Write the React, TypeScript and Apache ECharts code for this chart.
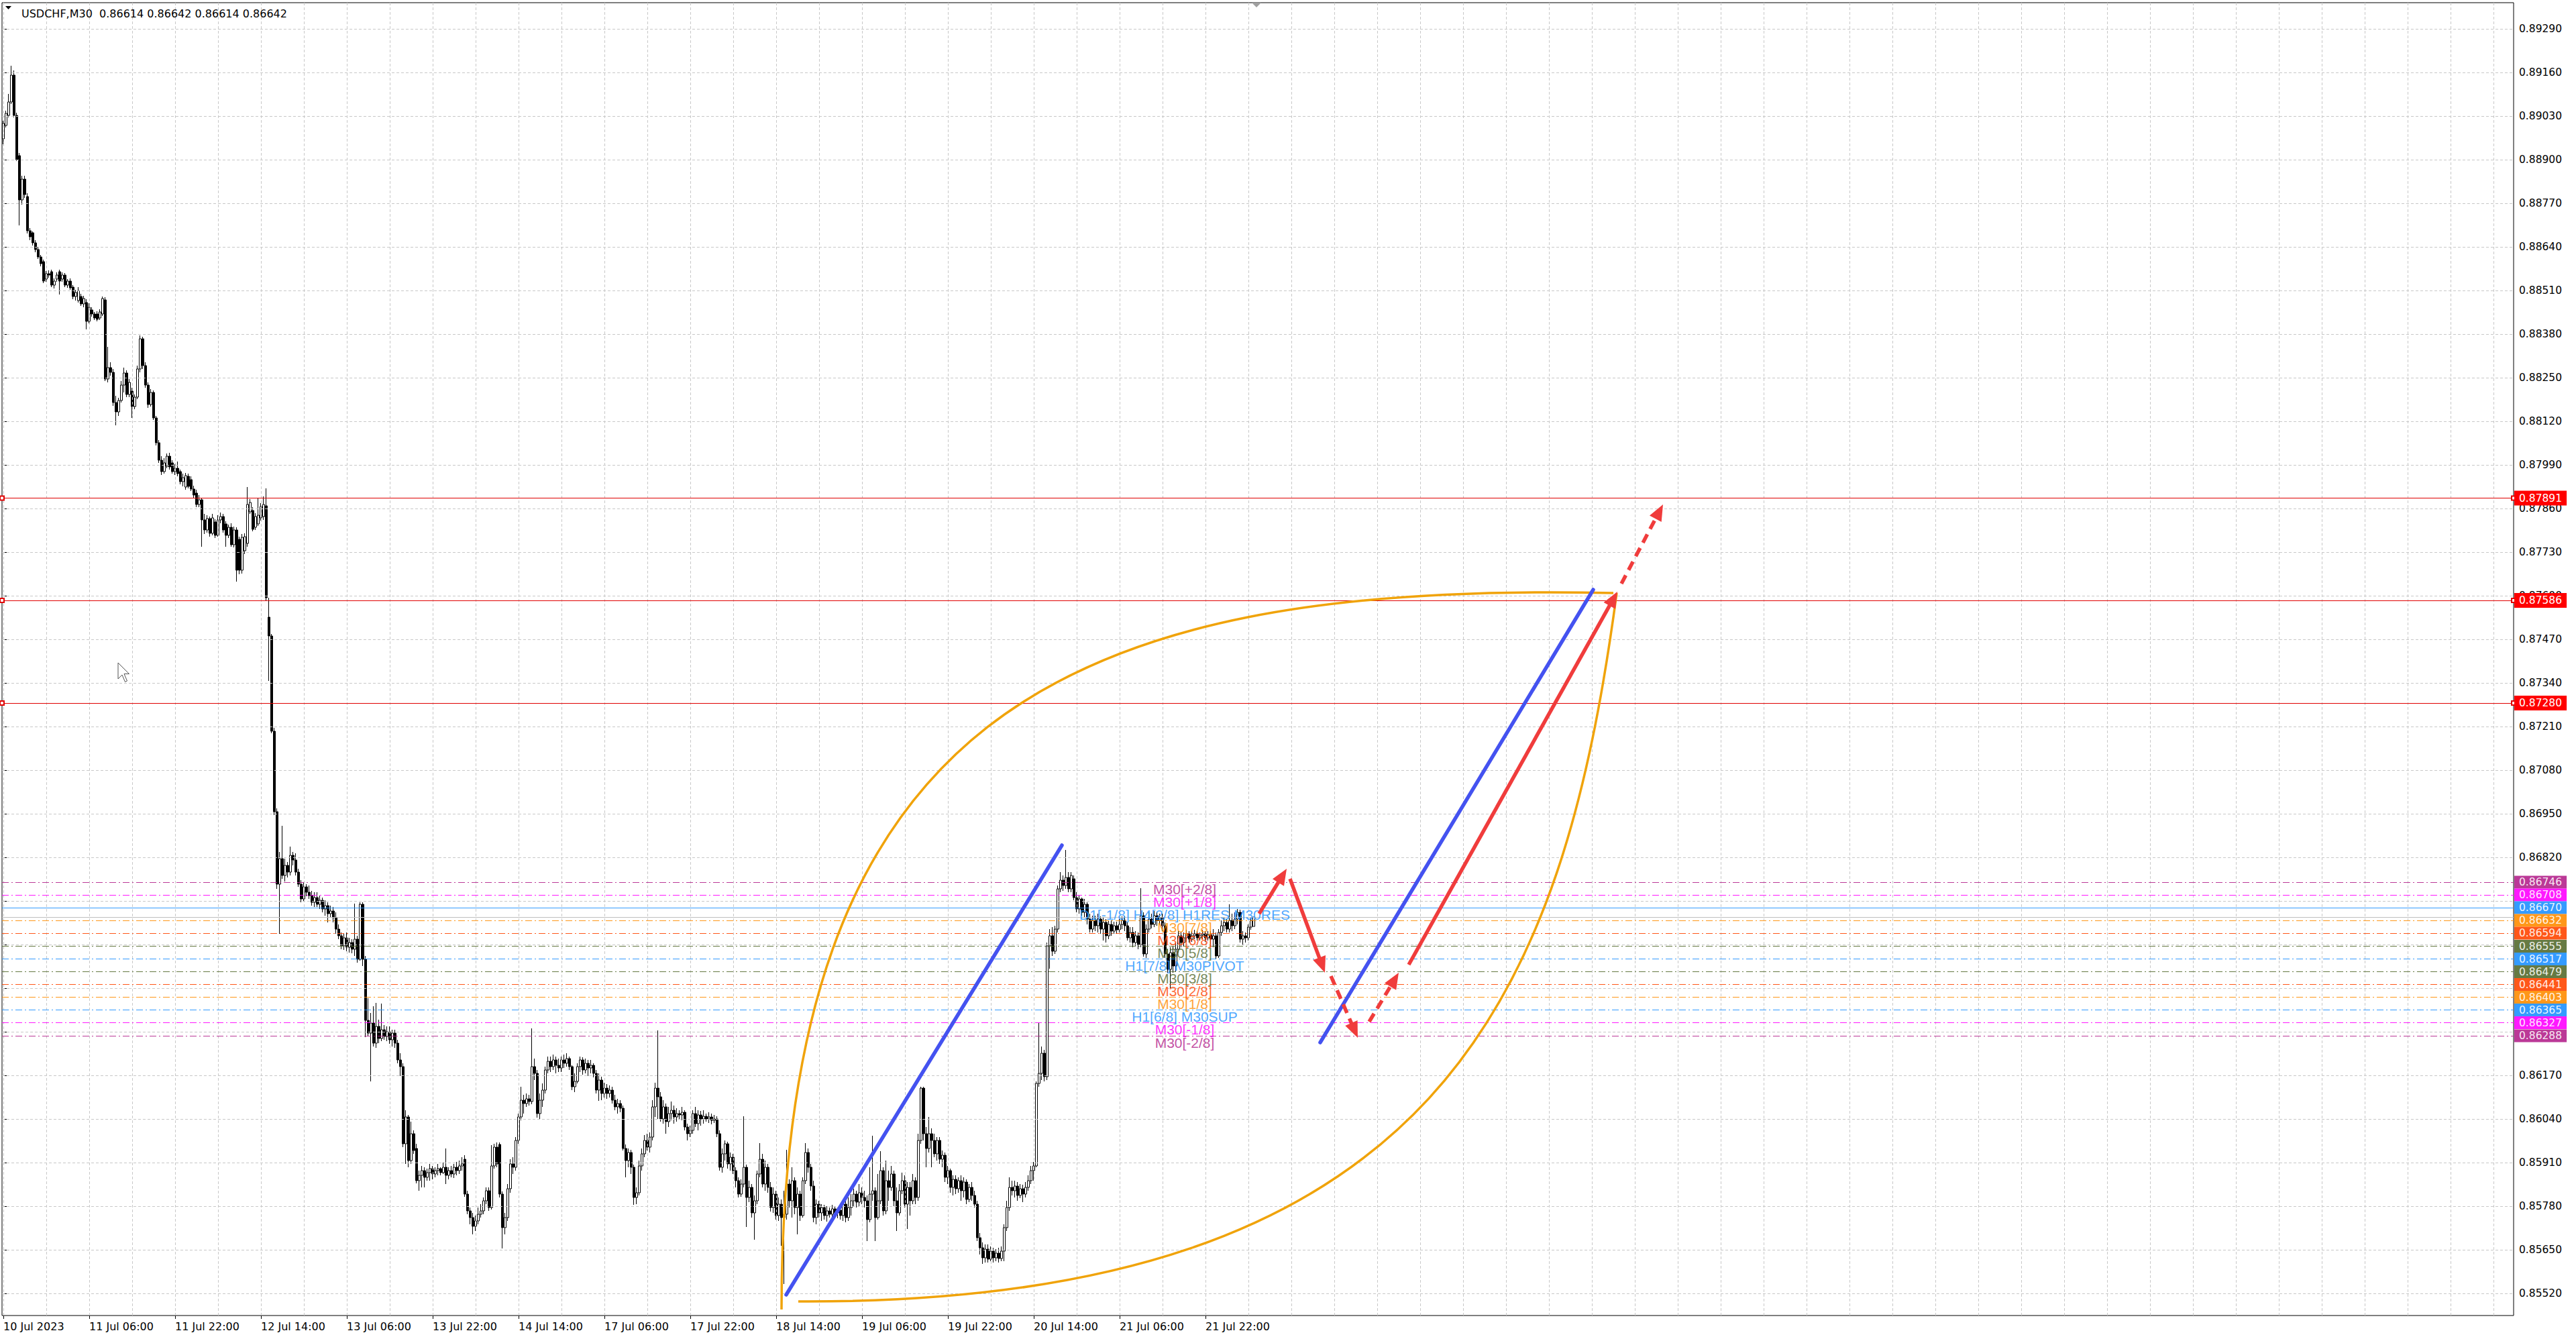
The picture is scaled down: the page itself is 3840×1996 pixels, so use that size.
import React, { useEffect, useRef } from 'react';
import * as echarts from 'echarts';

const AXIS_FONT = 'DejaVu Sans';
const TEXT_FONT = 'Liberation Sans';

// USDCHF M30 bars, [open, high, low, close] in units of 0.00001
const jul10 = [
  [88962, 89016, 88946, 89008], [89002, 89046, 88996, 89038], [89032, 89096, 89026, 89072], [89072, 89180, 89066, 89152],
  [89152, 89166, 89026, 89032], [89032, 89040, 88896, 88900], [88912, 88920, 88704, 88780], [88780, 88852, 88766, 88842],
  [88842, 88852, 88786, 88796], [88790, 88800, 88680, 88688], [88688, 88696, 88660, 88670], [88682, 88686, 88644, 88652],
  [88652, 88660, 88624, 88632], [88632, 88640, 88604, 88610], [88610, 88616, 88582, 88590], [88596, 88602, 88532, 88538],
  [88544, 88568, 88536, 88560], [88560, 88570, 88548, 88556], [88566, 88572, 88520, 88526], [88526, 88546, 88516, 88538],
];
const jul11 = [
  [88544, 88564, 88536, 88556], [88566, 88572, 88498, 88538], [88544, 88564, 88536, 88556], [88556, 88562, 88520, 88526],
  [88526, 88544, 88518, 88538], [88538, 88546, 88512, 88518], [88520, 88526, 88484, 88492], [88492, 88512, 88480, 88504],
  [88480, 88520, 88474, 88510], [88492, 88500, 88464, 88470], [88470, 88494, 88460, 88486], [88474, 88484, 88394, 88418],
  [88418, 88472, 88412, 88460], [88452, 88460, 88432, 88440], [88440, 88446, 88422, 88428], [88440, 88448, 88418, 88424],
  [88428, 88454, 88422, 88446], [88440, 88492, 88434, 88486], [88482, 88490, 88240, 88246], [88246, 88342, 88236, 88280],
  [88280, 88296, 88256, 88266], [88266, 88276, 88166, 88176], [88176, 88196, 88108, 88148], [88148, 88190, 88136, 88182],
  [88182, 88240, 88176, 88228], [88228, 88280, 88206, 88264], [88264, 88272, 88192, 88200], [88200, 88246, 88192, 88236],
  [88210, 88220, 88130, 88164], [88164, 88200, 88156, 88192], [88192, 88286, 88186, 88276], [88276, 88376, 88266, 88366],
  [88366, 88372, 88276, 88286], [88286, 88296, 88220, 88228], [88228, 88236, 88160, 88170], [88170, 88216, 88164, 88206],
  [88206, 88212, 88124, 88130], [88130, 88136, 88048, 88056], [88056, 88064, 87996, 88004], [88004, 88016, 87960, 87970],
  [87970, 88010, 87964, 87996], [87986, 88024, 87980, 88016], [88016, 88026, 87976, 87984], [87996, 88004, 87964, 87970],
  [87970, 87992, 87960, 87980], [87980, 88000, 87956, 87964], [87970, 87976, 87932, 87940], [87940, 87964, 87926, 87952],
];
const jul12 = [
  [87924, 87966, 87916, 87958], [87956, 87964, 87920, 87926], [87946, 87956, 87912, 87918], [87918, 87928, 87892, 87900],
  [87906, 87916, 87864, 87872], [87872, 87900, 87864, 87886], [87886, 87892, 87746, 87826], [87826, 87844, 87784, 87796],
  [87796, 87840, 87788, 87830], [87830, 87836, 87776, 87786], [87786, 87844, 87780, 87832], [87820, 87828, 87772, 87780],
  [87780, 87840, 87776, 87826], [87826, 87848, 87816, 87836], [87836, 87844, 87788, 87796], [87814, 87822, 87746, 87780],
  [87780, 87812, 87772, 87804], [87804, 87816, 87746, 87752], [87752, 87806, 87744, 87796], [87796, 87804, 87642, 87676],
  [87768, 87776, 87664, 87676], [87676, 87784, 87666, 87774], [87734, 87786, 87724, 87776], [87756, 87924, 87746, 87872],
  [87850, 87888, 87844, 87878], [87854, 87864, 87792, 87798], [87804, 87846, 87796, 87836], [87814, 87890, 87808, 87840],
  [87832, 87876, 87824, 87866], [87836, 87896, 87826, 87872], [87868, 87920, 87586, 87594], [87536, 87594, 87346, 87480],
  [87480, 87486, 87190, 87196], [87196, 87206, 86946, 86956], [86956, 86966, 86726, 86740], [86740, 86836, 86592, 86816],
  [86816, 86914, 86756, 86766], [86766, 86816, 86748, 86796], [86796, 86806, 86760, 86776], [86776, 86852, 86766, 86826],
  [86826, 86836, 86796, 86812], [86812, 86832, 86766, 86776], [86776, 86786, 86732, 86740], [86740, 86752, 86686, 86696],
  [86696, 86746, 86688, 86732], [86732, 86740, 86704, 86716], [86716, 86736, 86696, 86706], [86706, 86720, 86676, 86686],
];
const jul13 = [
  [86686, 86716, 86672, 86700], [86700, 86716, 86672, 86680], [86680, 86706, 86666, 86692], [86692, 86700, 86656, 86666],
  [86666, 86692, 86646, 86676], [86676, 86686, 86626, 86652], [86652, 86676, 86640, 86660], [86660, 86672, 86626, 86640],
  [86640, 86656, 86592, 86606], [86606, 86620, 86576, 86586], [86586, 86596, 86546, 86556], [86556, 86592, 86544, 86580],
  [86580, 86596, 86540, 86552], [86552, 86580, 86536, 86566], [86566, 86576, 86534, 86546], [86546, 86682, 86526, 86576],
  [86576, 86586, 86506, 86516], [86516, 86686, 86512, 86680], [86680, 86686, 86496, 86516], [86516, 86526, 86284, 86334],
  [86334, 86400, 86286, 86296], [86296, 86356, 86152, 86326], [86326, 86376, 86256, 86266], [86266, 86386, 86252, 86316],
  [86316, 86336, 86266, 86280], [86280, 86384, 86272, 86306], [86306, 86320, 86276, 86286], [86286, 86316, 86272, 86300],
  [86300, 86316, 86264, 86276], [86276, 86306, 86256, 86296], [86296, 86306, 86252, 86266], [86266, 86276, 86206, 86216],
  [86216, 86236, 86168, 86196], [86196, 86206, 85956, 85966], [85966, 86066, 85906, 86046], [86046, 86052, 85896, 85916],
  [85916, 86032, 85906, 85996], [85996, 86006, 85936, 85946], [85952, 85966, 85848, 85856], [85856, 85886, 85826, 85872],
  [85872, 85900, 85836, 85886], [85886, 85896, 85836, 85866], [85866, 85892, 85856, 85880], [85880, 85906, 85856, 85892],
  [85892, 85900, 85860, 85876], [85876, 85896, 85866, 85886], [85886, 85906, 85872, 85892], [85892, 85896, 85872, 85880],
];
const jul14 = [
  [85880, 85910, 85876, 85896], [85896, 85952, 85846, 85872], [85872, 85896, 85860, 85886], [85886, 85900, 85866, 85876],
  [85876, 85906, 85864, 85896], [85896, 85912, 85872, 85886], [85886, 85916, 85876, 85900], [85900, 85926, 85886, 85906],
  [85920, 85932, 85808, 85816], [85816, 85826, 85756, 85766], [85766, 85776, 85726, 85746], [85746, 85760, 85696, 85720],
  [85720, 85752, 85706, 85736], [85736, 85776, 85726, 85756], [85756, 85786, 85746, 85766], [85766, 85806, 85756, 85796],
  [85796, 85836, 85786, 85826], [85826, 85836, 85766, 85776], [85776, 85962, 85770, 85900], [85900, 85966, 85892, 85956],
  [85956, 85970, 85896, 85906], [85964, 85970, 85806, 85816], [85816, 85824, 85654, 85716], [85716, 85760, 85696, 85746],
  [85746, 85846, 85736, 85832], [85832, 85920, 85820, 85906], [85906, 85926, 85876, 85896], [85896, 85986, 85886, 85976],
  [85976, 86056, 85966, 86046], [86046, 86136, 86036, 86096], [86096, 86112, 86056, 86086], [86086, 86116, 86076, 86100],
  [86100, 86112, 86080, 86092], [86092, 86310, 86084, 86196], [86196, 86220, 86156, 86176], [86176, 86186, 86044, 86056],
  [86056, 86116, 86040, 86096], [86096, 86146, 86076, 86126], [86126, 86196, 86116, 86186], [86186, 86226, 86176, 86212],
  [86212, 86226, 86180, 86196], [86196, 86232, 86186, 86216], [86216, 86226, 86176, 86200], [86200, 86220, 86180, 86192],
  [86192, 86226, 86180, 86216], [86216, 86232, 86192, 86206], [86206, 86236, 86196, 86220], [86220, 86226, 86186, 86196],
];
const jul17 = [
  [86196, 86200, 86126, 86136], [86136, 86176, 86120, 86152], [86152, 86206, 86146, 86196], [86196, 86226, 86180, 86216],
  [86216, 86224, 86172, 86186], [86186, 86220, 86176, 86206], [86206, 86216, 86168, 86192], [86192, 86216, 86176, 86200],
  [86200, 86206, 86164, 86176], [86176, 86186, 86116, 86126], [86126, 86176, 86094, 86156], [86156, 86166, 86096, 86116],
  [86116, 86148, 86104, 86132], [86132, 86144, 86100, 86116], [86116, 86140, 86104, 86126], [86126, 86136, 86086, 86096],
  [86096, 86112, 86066, 86076], [86076, 86100, 86056, 86086], [86086, 86096, 86060, 86072], [86072, 86080, 85946, 85952],
  [85952, 85964, 85866, 85916], [85916, 85952, 85896, 85940], [85940, 85948, 85876, 85896], [85896, 85904, 85784, 85806],
  [85806, 85836, 85786, 85820], [85820, 85916, 85812, 85900], [85900, 85952, 85886, 85936], [85936, 85992, 85926, 85976],
  [85976, 85996, 85946, 85956], [85956, 86000, 85940, 85986], [85986, 86096, 85976, 86076], [86076, 86148, 86046, 86132],
  [86132, 86304, 86040, 86106], [86106, 86120, 86032, 86040], [86040, 86096, 86026, 86076], [86076, 86086, 85996, 86032],
  [86032, 86076, 86016, 86056], [86056, 86092, 86036, 86066], [86066, 86080, 86026, 86046], [86046, 86072, 86032, 86056],
  [86056, 86066, 86040, 86052], [86052, 86076, 86036, 86060], [86060, 86066, 86006, 86016], [86016, 86026, 85976, 85996],
  [85996, 86020, 85986, 86006], [86006, 86066, 85996, 86056], [86056, 86076, 86016, 86026], [86026, 86066, 86006, 86052],
];
const jul18 = [
  [86052, 86064, 86020, 86040], [86040, 86066, 86026, 86048], [86048, 86056, 86032, 86040], [86040, 86060, 86028, 86046],
  [86046, 86056, 86024, 86036], [86036, 86052, 86028, 86040], [86040, 86048, 85986, 85996], [85996, 86006, 85886, 85896],
  [85896, 85952, 85880, 85936], [85936, 85976, 85916, 85966], [85966, 85972, 85892, 85906], [85906, 85940, 85886, 85926],
  [85926, 85936, 85876, 85886], [85886, 85896, 85836, 85856], [85856, 85866, 85806, 85816], [85816, 85860, 85808, 85846],
  [85846, 86048, 85836, 85896], [85896, 85904, 85718, 85806], [85806, 85856, 85792, 85836], [85836, 85846, 85746, 85760],
  [85760, 85812, 85680, 85796], [85796, 85886, 85786, 85876], [85876, 85968, 85866, 85920], [85920, 85936, 85836, 85846],
  [85846, 85916, 85826, 85896], [85896, 85906, 85820, 85836], [85836, 85852, 85764, 85776], [85776, 85836, 85760, 85816],
  [85816, 85826, 85740, 85752], [85752, 85806, 85736, 85786], [85786, 85800, 85662, 85746], [85746, 85826, 85548, 85756],
  [85756, 85948, 85740, 85846], [85846, 85860, 85776, 85796], [85796, 85896, 85746, 85856], [85856, 85866, 85756, 85776],
  [85776, 85836, 85696, 85816], [85816, 85826, 85736, 85752], [85752, 85866, 85746, 85856], [85856, 85968, 85846, 85940],
  [85940, 85952, 85880, 85896], [85896, 85906, 85826, 85840], [85840, 85856, 85732, 85746], [85746, 85800, 85726, 85786],
  [85786, 85796, 85746, 85760], [85760, 85786, 85736, 85776], [85776, 85784, 85740, 85752], [85752, 85780, 85734, 85766],
];
const jul19 = [
  [85766, 85776, 85746, 85756], [85756, 85784, 85748, 85772], [85772, 85780, 85752, 85760], [85760, 85776, 85744, 85768],
  [85768, 85780, 85740, 85752], [85752, 85798, 85736, 85786], [85786, 85796, 85732, 85746], [85746, 85806, 85736, 85776],
  [85776, 85816, 85752, 85796], [85796, 85832, 85780, 85816], [85816, 85826, 85776, 85792], [85792, 85846, 85780, 85820],
  [85820, 85836, 85786, 85806], [85806, 85826, 85776, 85796], [85796, 85812, 85676, 85740], [85740, 85896, 85732, 85816],
  [85816, 85990, 85796, 85826], [85826, 85836, 85676, 85746], [85746, 85876, 85740, 85796], [85796, 85944, 85786, 85886],
  [85886, 85896, 85752, 85766], [85766, 85916, 85756, 85856], [85856, 85886, 85796, 85836], [85836, 85900, 85826, 85876],
  [85876, 85886, 85780, 85796], [85796, 85836, 85706, 85760], [85760, 85846, 85752, 85826], [85826, 85880, 85816, 85856],
  [85856, 85872, 85776, 85786], [85786, 85852, 85712, 85836], [85836, 85852, 85752, 85796], [85796, 85876, 85786, 85856],
  [85856, 85866, 85786, 85806], [85806, 85996, 85796, 85976], [85976, 86136, 85966, 86132], [86132, 86136, 85976, 85996],
  [85996, 86016, 85896, 85952], [85952, 86046, 85940, 85996], [85996, 86012, 85896, 85976], [85976, 85996, 85926, 85936],
  [85936, 85986, 85916, 85976], [85976, 85986, 85906, 85920], [85920, 85946, 85896, 85932], [85932, 85940, 85852, 85866],
  [85866, 85900, 85846, 85886], [85886, 85892, 85820, 85836], [85836, 85872, 85812, 85860], [85860, 85872, 85816, 85832],
];
const jul20 = [
  [85832, 85866, 85820, 85856], [85856, 85872, 85796, 85826], [85826, 85866, 85806, 85852], [85852, 85860, 85786, 85800],
  [85800, 85846, 85792, 85836], [85836, 85852, 85796, 85812], [85812, 85826, 85776, 85786], [85786, 85796, 85676, 85686],
  [85686, 85700, 85636, 85656], [85656, 85672, 85608, 85626], [85626, 85666, 85612, 85652], [85652, 85666, 85612, 85622],
  [85622, 85660, 85616, 85646], [85646, 85656, 85612, 85626], [85626, 85652, 85616, 85640], [85640, 85656, 85612, 85624],
  [85624, 85660, 85616, 85646], [85646, 85726, 85616, 85716], [85716, 85796, 85706, 85776], [85776, 85866, 85766, 85836],
  [85836, 85856, 85812, 85826], [85826, 85856, 85806, 85840], [85840, 85852, 85796, 85812], [85812, 85846, 85804, 85832],
  [85832, 85844, 85792, 85816], [85816, 85852, 85806, 85836], [85836, 85872, 85826, 85856], [85856, 85900, 85846, 85886],
  [85886, 85912, 85856, 85900], [85900, 86152, 85896, 86146], [86146, 86326, 86136, 86176], [86176, 86256, 86156, 86236],
  [86236, 86246, 86152, 86166], [86166, 86566, 86156, 86556], [86556, 86606, 86488, 86586], [86586, 86612, 86526, 86540],
  [86540, 86616, 86532, 86606], [86606, 86736, 86596, 86726], [86726, 86776, 86716, 86752], [86752, 86766, 86720, 86736],
  [86736, 86842, 86726, 86760], [86760, 86776, 86716, 86726], [86726, 86776, 86716, 86766], [86756, 86766, 86692, 86700],
  [86700, 86716, 86656, 86666], [86666, 86706, 86652, 86696], [86696, 86700, 86646, 86656], [86656, 86696, 86640, 86680],
];
const jul21 = [
  [86680, 86686, 86620, 86636], [86636, 86652, 86596, 86606], [86606, 86646, 86596, 86632], [86632, 86646, 86600, 86616],
  [86616, 86652, 86596, 86636], [86636, 86644, 86592, 86606], [86606, 86640, 86572, 86626], [86626, 86636, 86566, 86586],
  [86586, 86632, 86576, 86620], [86620, 86632, 86586, 86600], [86600, 86628, 86592, 86616], [86616, 86628, 86592, 86604],
  [86604, 86636, 86596, 86620], [86620, 86644, 86606, 86632], [86632, 86644, 86600, 86616], [86616, 86626, 86572, 86580],
  [86580, 86612, 86566, 86596], [86596, 86612, 86552, 86566], [86566, 86600, 86556, 86586], [86586, 86596, 86546, 86560],
  [86560, 86728, 86552, 86646], [86646, 86656, 86524, 86532], [86532, 86620, 86520, 86606], [86606, 86656, 86596, 86636],
  [86636, 86652, 86608, 86620], [86620, 86660, 86612, 86646], [86646, 86656, 86616, 86632], [86632, 86652, 86620, 86640],
  [86640, 86652, 86600, 86616], [86616, 86626, 86520, 86532], [86532, 86546, 86476, 86486], [86486, 86552, 86430, 86536],
  [86536, 86556, 86476, 86496], [86496, 86566, 86480, 86546], [86546, 86600, 86536, 86586], [86586, 86596, 86552, 86566],
  [86566, 86596, 86556, 86580], [86580, 86604, 86568, 86592], [86592, 86600, 86566, 86576], [86576, 86600, 86568, 86586],
  [86586, 86604, 86576, 86592], [86592, 86600, 86572, 86580], [86580, 86596, 86572, 86588], [86588, 86604, 86576, 86592],
  [86592, 86600, 86568, 86580], [86580, 86600, 86572, 86590], [86590, 86600, 86556, 86576], [86576, 86606, 86552, 86586],
];
const jul24 = [
  [86586, 86596, 86516, 86526], [86526, 86606, 86520, 86596], [86596, 86632, 86586, 86616], [86616, 86640, 86600, 86626],
  [86626, 86636, 86596, 86606], [86606, 86680, 86596, 86632], [86632, 86652, 86600, 86616], [86616, 86656, 86606, 86636],
  [86636, 86666, 86620, 86656], [86656, 86664, 86566, 86576], [86576, 86600, 86560, 86586], [86586, 86596, 86566, 86580],
  [86580, 86620, 86572, 86612], [86612, 86640, 86604, 86632], [86614, 86642, 86614, 86642],
];

// time labels every 32 bars (16 hours), starting at bar 0
const timeLabels = [
  '10 Jul 2023', '11 Jul 06:00', '11 Jul 22:00', '12 Jul 14:00', '13 Jul 06:00', '13 Jul 22:00', '14 Jul 14:00',
  '17 Jul 06:00', '17 Jul 22:00', '18 Jul 14:00', '19 Jul 06:00', '19 Jul 22:00', '20 Jul 14:00', '21 Jul 06:00', '21 Jul 22:00',
];
const priceTicks = [
  0.8552, 0.8565, 0.8578, 0.8591, 0.8604, 0.8617, 0.863, 0.8643, 0.8656, 0.8669, 0.8682, 0.8695, 0.8708, 0.8721, 0.8734,
  0.8747, 0.876, 0.8773, 0.8786, 0.8799, 0.8812, 0.8825, 0.8838, 0.8851, 0.8864, 0.8877, 0.889, 0.8903, 0.8916, 0.8929,
];

const murreyLevels = [0.86746, 0.86708, 0.8667, 0.86632, 0.86594, 0.86555, 0.86517, 0.86479, 0.86441, 0.86403, 0.86365, 0.86327, 0.86288];
const murreyNames = [
  'M30[+2/8]', 'M30[+1/8]', 'D1[-1/8] H4[2/8] H1RES M30RES', 'M30[7/8]', 'M30[6/8]', 'M30[5/8]', 'H1[7/8] M30PIVOT',
  'M30[3/8]', 'M30[2/8]', 'M30[1/8]', 'H1[6/8] M30SUP', 'M30[-1/8]', 'M30[-2/8]',
];
const murreyColors = [
  '#b4238c', '#ff00ff', '#1e90ff', '#ff8c00', '#ff4500', '#556b2f', '#1e90ff', '#556b2f', '#ff4500', '#ff8c00', '#1e90ff', '#ff00ff', '#b4238c',
];
const keyLevels = [0.87891, 0.87586, 0.8728];
const bidPrice = 0.86642;

// drawings, points as [bar index, price]
const blueLines = [
  [[291.75, 0.85516], [394.5, 0.86856]],
  [[490.75, 0.86268], [592.5, 0.87618]],
];
const redArrows = [
  { from: [468, 0.86652], to: [478.25, 0.86786], dashed: false },
  { from: [479.5, 0.86756], to: [492.5, 0.86476], dashed: false },
  { from: [494.75, 0.86466], to: [504.75, 0.86282], dashed: true },
  { from: [509, 0.8633], to: [520, 0.86476], dashed: true },
  { from: [523.75, 0.865], to: [601.5, 0.87612], dashed: false },
  { from: [603, 0.87636], to: [618.5, 0.87872], dashed: true },
];
const orangeCurves = [
  [[290, 0.85472], [290, 0.87216], [391.25, 0.87646], [600, 0.87608]],
  [[296.25, 0.85496], [536.25, 0.85486], [581.25, 0.86416], [601.25, 0.87608]],
];
const textBar = 440.25;

const SLOTS = 936;

export default function App() {
  const ref = useRef<HTMLDivElement>(null);

  useEffect(() => {
    const el = ref.current;
    if (!el) return;
    const chart = echarts.init(el, null, { renderer: 'svg' });

    const bars = [...jul10, ...jul11, ...jul12, ...jul13, ...jul14, ...jul17, ...jul18, ...jul19, ...jul20, ...jul21, ...jul24];
    const candle = bars.map((b) => [b[0] / 1e5, b[3] / 1e5, b[2] / 1e5, b[1] / 1e5]);
    const labelAt = new Map<number, string>();
    timeLabels.forEach((t, k) => labelAt.set(k * 32, t));
    const cats = Array.from({ length: SLOTS }, (_, i) => labelAt.get(i) ?? String(i));
    const isLabel = (i: number) => labelAt.has(i);

    // axis price labels hidden beneath the level boxes are not drawn
    const labelTicks = priceTicks.filter((t) => !murreyLevels.some((m) => Math.abs(m - t) < 0.00022));

    const yMin = 0.85454;
    const yMax = 0.89368;

    const gridLines: any[] = [];
    priceTicks.forEach((v) => gridLines.push({ yAxis: v }));
    for (let k = 0; k * 16 < SLOTS; k++) gridLines.push({ xAxis: k * 16 });

    const murreyData: any[] = murreyLevels.map((v, k) => ({
      yAxis: v,
      lineStyle: { color: murreyColors[k], width: 1, type: k === 2 ? 'solid' : [10, 4, 2, 4], opacity: 0.9 },
      label: {
        show: true, position: 'end', distance: 1, formatter: v.toFixed(5), color: '#ffffff',
        backgroundColor: murreyColors[k], padding: [2, 7, 1, 7], fontFamily: AXIS_FONT, fontSize: 15.5,
      },
    }));
    murreyData.push({ yAxis: bidPrice, lineStyle: { color: '#c0c0c0', width: 1, type: 'solid' }, label: { show: false } });

    const TEXT_SERIES = 4;

    const option: any = {
      animation: false,
      backgroundColor: '#ffffff',
      grid: { left: 3, top: 4, right: 93, bottom: 35, show: true, borderColor: '#000000', borderWidth: 1, backgroundColor: 'transparent' },
      xAxis: [
        {
          type: 'category', data: cats, boundaryGap: true,
          axisLine: { show: false },
          axisTick: { show: true, interval: (i: number) => isLabel(i), alignWithLabel: true, length: 5, lineStyle: { color: '#000' } },
          axisLabel: {
            show: true, interval: (i: number) => isLabel(i), align: 'left', margin: 8, color: '#000',
            fontFamily: AXIS_FONT, fontSize: 16,
          },
          splitLine: { show: false },
        },
        { type: 'value', min: -0.5, max: SLOTS - 0.5, show: false },
      ],
      yAxis: {
        type: 'value', position: 'right', min: yMin, max: yMax, scale: true,
        axisLine: { show: false },
        axisTick: { show: true, customValues: priceTicks, length: 5, lineStyle: { color: '#000' } },
        axisLabel: {
          show: true, customValues: labelTicks, margin: 8, color: '#000', fontFamily: AXIS_FONT, fontSize: 15.5,
          formatter: (v: number) => v.toFixed(5),
        },
        splitLine: { show: false },
      },
      series: [
        {
          type: 'line', xAxisIndex: 1, yAxisIndex: 0, data: [], z: 0, silent: true,
          markLine: { silent: true, symbol: 'none', animation: false, precision: 6, label: { show: false },
            lineStyle: { color: '#c8c8c8', width: 1, type: [4, 3] }, data: gridLines },
        },
        {
          type: 'line', xAxisIndex: 1, yAxisIndex: 0, data: [], z: 1, silent: true,
          markLine: { silent: true, symbol: 'none', animation: false, precision: 6, data: murreyData },
        },
        {
          type: 'candlestick', xAxisIndex: 0, yAxisIndex: 0, z: 3, data: candle, barWidth: 3, large: false, silent: true,
          itemStyle: { color: '#ffffff', color0: '#000000', borderColor: '#000000', borderColor0: '#000000', borderWidth: 1 },
        },
        {
          type: 'line', xAxisIndex: 1, yAxisIndex: 0, data: [], z: 4, silent: true,
          markLine: {
            silent: true, symbol: ['emptyRect', 'emptyRect'], symbolSize: 6, animation: false, precision: 6,
            lineStyle: { color: '#e00000', width: 1, type: 'solid' },
            label: { show: true, position: 'end', distance: 1, color: '#ffffff', backgroundColor: '#ff0000',
              padding: [3, 7, 3, 7], fontFamily: AXIS_FONT, fontSize: 15.5 },
            data: keyLevels.map((v) => ({ yAxis: v, label: { formatter: v.toFixed(5) } })),
          },
        },
        {
          type: 'scatter', xAxisIndex: 1, yAxisIndex: 0, z: 6, silent: true, symbolSize: 1,
          itemStyle: { color: 'rgba(0,0,0,0)' },
          label: { show: true, position: 'bottom', distance: -1, fontFamily: TEXT_FONT, fontSize: 21 },
          data: murreyLevels.map((v, k) => ({ value: [textBar, v], label: { formatter: murreyNames[k], color: murreyColors[k] } })),
        },
      ],
    };
    chart.setOption(option);

    const px = (p: number[]) => chart.convertToPixel({ seriesIndex: TEXT_SERIES }, p) as number[];
    const graphics: any[] = [];

    orangeCurves.forEach((c) => {
      const [a, b, d, e] = c.map(px);
      graphics.push({
        type: 'bezierCurve', z: 20, silent: true,
        shape: { x1: a[0], y1: a[1], cpx1: b[0], cpy1: b[1], cpx2: d[0], cpy2: d[1], x2: e[0], y2: e[1] },
        style: { stroke: '#f0a30a', lineWidth: 3.5, fill: 'none' },
      });
    });
    blueLines.forEach(([p, q]) => {
      const a = px(p); const b = px(q);
      graphics.push({ type: 'line', z: 21, silent: true, shape: { x1: a[0], y1: a[1], x2: b[0], y2: b[1] },
        style: { stroke: '#4452f0', lineWidth: 5.5, lineCap: 'round' } });
    });
    redArrows.forEach((r) => {
      const a = px(r.from); const b = px(r.to);
      const dx = b[0] - a[0]; const dy = b[1] - a[1];
      const len = Math.hypot(dx, dy);
      const ux = dx / len; const uy = dy / len;
      const L = 24; const W = 10;
      const bx = b[0] - ux * L; const by = b[1] - uy * L;
      graphics.push({ type: 'line', z: 22, silent: true, shape: { x1: a[0], y1: a[1], x2: bx + ux * 2, y2: by + uy * 2 },
        style: { stroke: '#f03c3c', lineWidth: 5.5, lineDash: r.dashed ? [14, 9] : null, lineCap: 'butt' } });
      graphics.push({ type: 'polygon', z: 22, silent: true,
        shape: { points: [[b[0], b[1]], [bx - uy * W, by + ux * W], [bx + uy * W, by - ux * W]] },
        style: { fill: '#f03c3c' } });
    });

    // chart header
    graphics.push({ type: 'polygon', z: 30, silent: true, shape: { points: [[8, 9], [17, 9], [12.5, 14]] }, style: { fill: '#000' } });
    graphics.push({ type: 'text', z: 30, silent: true, x: 32, y: 20,
      style: { text: 'USDCHF,M30\u00a0\u00a00.86614 0.86642 0.86614 0.86642', fill: '#000', font: `16px "${AXIS_FONT}"`, verticalAlign: 'middle', align: 'left' } });
    // chart shift marker
    graphics.push({ type: 'polygon', z: 30, silent: true, shape: { points: [[1866, 4], [1880, 4], [1873, 11]] }, style: { fill: '#a0a0a0' } });
    // mouse cursor
    const cx = 176; const cy = 988;
    const cur = [[0, 0], [0, 24], [6, 18], [10.5, 28.5], [13.5, 27], [9, 16.5], [16.5, 16.5]];
    graphics.push({ type: 'polygon', z: 30, silent: true, shape: { points: cur.map(([x, y]) => [cx + x, cy + y]) },
      style: { fill: '#ffffff', stroke: '#555555', lineWidth: 1 } });

    chart.setOption({ graphic: graphics });

    return () => chart.dispose();
  }, []);

  return <div ref={ref} style={{ position: 'fixed', left: 0, top: 0, width: 3840, height: 1996, background: '#ffffff' }} />;
}
